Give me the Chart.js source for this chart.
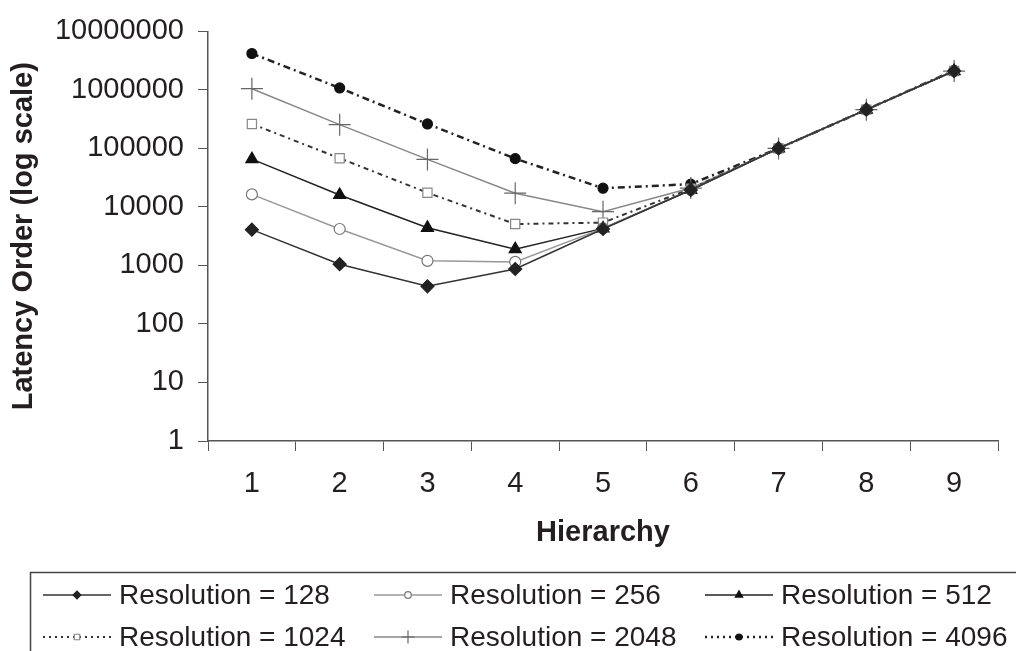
<!DOCTYPE html>
<html>
<head>
<meta charset="utf-8">
<title>Latency Order</title>
<script src="https://cdn.jsdelivr.net/npm/chart.js@4.4.1/dist/chart.umd.min.js"></script>
<style>
    html, body { margin: 0; padding: 0; background: #fff; }
    #contenedor { width: 1016px; height: 651px; position: relative; }
</style>
</head>
<body>
<div id="contenedor"><canvas id="graficoLatencia"></canvas></div>
<script>
// Datos (escala logarítmica)
const jerarquia = ['1', '2', '3', '4', '5', '6', '7', '8', '9'];
const res128  = [4096, 1050, 440, 870, 4200, 19500, 100000, 460000, 2100000];
const res256  = [16384, 4200, 1200, 1150, 4300, 19500, 100000, 460000, 2100000];
const res512  = [65536, 16000, 4400, 1900, 4300, 19500, 100000, 460000, 2100000];
const res1024 = [262144, 68000, 17500, 5100, 5400, 20500, 100000, 460000, 2100000];
const res2048 = [1048576, 255000, 65000, 17200, 8300, 21000, 100000, 460000, 2100000];
const res4096 = [4194304, 1080000, 262144, 67000, 20900, 24500, 100000, 460000, 2150000];

const yTicks = [1, 10, 100, 1000, 10000, 100000, 1000000, 10000000];
const yTickLabels = ['1', '10', '100', '1000', '10000', '100000', '1000000', '10000000'];
const etiquetas = [
    'Resolution = 128', 'Resolution = 256', 'Resolution = 512',
    'Resolution = 1024', 'Resolution = 2048', 'Resolution = 4096'
];

const colorTexto = '#231f20';
const colorEje = '#555';
const fuente = '"Liberation Sans", Arial, sans-serif';

// Leyenda dibujada a mano: caja con dos filas de tres elementos
const leyendaCaja = {
    id: 'leyendaCaja',
    afterDraw(chart) {
        const ctx = chart.ctx;
        ctx.save();
        ctx.strokeStyle = '#444';
        ctx.lineWidth = 1.5;
        ctx.strokeRect(30.5, 572.5, 1100, 200);

        const colX = [119, 450, 781];
        const filaY = [595, 637];
        chart.data.datasets.forEach((ds, i) => {
            const tx = colX[i % 3];
            const ty = filaY[Math.floor(i / 3)];

            ctx.strokeStyle = ds.borderColor;
            ctx.lineWidth = ds.borderWidth;
            ctx.setLineDash(ds.borderDash && ds.borderDash.length ? [2, 4] : []);
            ctx.beginPath();
            ctx.moveTo(tx - 76, ty);
            ctx.lineTo(tx - 8, ty);
            ctx.stroke();
            ctx.setLineDash([]);

            ctx.fillStyle = ds.pointBackgroundColor;
            ctx.strokeStyle = ds.pointBorderColor;
            ctx.lineWidth = ds.pointBorderWidth;
            Chart.helpers.drawPoint(ctx, {
                pointStyle: ds.pointStyle,
                radius: ds.pointRadius * 0.6,
                borderWidth: ds.pointBorderWidth,
                rotation: 0
            }, tx - 42, ty);

            ctx.fillStyle = colorTexto;
            ctx.font = '28px ' + fuente;
            ctx.textAlign = 'left';
            ctx.textBaseline = 'middle';
            ctx.fillText(ds.label, tx, ty + 1);
        });
        ctx.restore();
    }
};

function serie(label, data, estilo) {
    return Object.assign({
        label: label,
        data: data,
        fill: false,
        tension: 0,
        borderWidth: 1.5,
        pointBorderWidth: 1.2
    }, estilo);
}

const datasets = [
    serie(etiquetas[0], res128, {
        borderColor: '#333', pointStyle: 'rectRot', pointRadius: 6.5,
        pointBackgroundColor: '#222', pointBorderColor: '#222'
    }),
    serie(etiquetas[1], res256, {
        borderColor: '#999', pointStyle: 'circle', pointRadius: 5.5,
        pointBackgroundColor: '#fff', pointBorderColor: '#777'
    }),
    serie(etiquetas[2], res512, {
        borderColor: '#222', pointStyle: 'triangle', pointRadius: 7,
        pointBackgroundColor: '#111', pointBorderColor: '#111'
    }),
    serie(etiquetas[3], res1024, {
        borderColor: '#333', borderWidth: 2, borderDash: [5, 4, 2, 4], pointStyle: 'rect', pointRadius: 6.5,
        pointBackgroundColor: '#fff', pointBorderColor: '#888'
    }),
    serie(etiquetas[4], res2048, {
        borderColor: '#888', pointStyle: 'cross', pointRadius: 11,
        pointBackgroundColor: '#666', pointBorderColor: '#666'
    }),
    serie(etiquetas[5], res4096, {
        borderColor: '#222', borderWidth: 2.5, borderDash: [7, 4, 2, 4], pointStyle: 'circle', pointRadius: 5,
        pointBackgroundColor: '#111', pointBorderColor: '#111'
    })
];

new Chart(document.getElementById('graficoLatencia'), {
    type: 'line',
    data: { labels: jerarquia, datasets: datasets },
    plugins: [leyendaCaja],
    options: {
        responsive: true,
        maintainAspectRatio: false,
        animation: false,
        layout: { padding: { left: 0, top: 30, right: 18, bottom: 96 } },
        plugins: {
            legend: { display: false },
            tooltip: { enabled: false }
        },
        scales: {
            x: {
                type: 'category',
                offset: true,
                grid: {
                    offset: true,
                    drawOnChartArea: false,
                    drawTicks: true,
                    tickLength: 10,
                    color: colorEje
                },
                border: { display: true, color: colorEje, width: 1.5 },
                ticks: {
                    color: colorTexto,
                    padding: 16,
                    font: { family: fuente, size: 29 }
                },
                title: {
                    display: true,
                    text: 'Hierarchy',
                    color: colorTexto,
                    padding: { top: 0, bottom: 5 },
                    font: { family: fuente, size: 29, weight: 'bold' }
                },
                afterFit: (scale) => { scale.height = 114; }
            },
            y: {
                type: 'logarithmic',
                min: 1,
                max: 10000000,
                afterBuildTicks: (scale) => {
                    scale.ticks = yTicks.map(v => ({ value: v }));
                },
                grid: {
                    drawOnChartArea: false,
                    drawTicks: true,
                    tickLength: 10,
                    color: colorEje
                },
                border: { display: true, color: colorEje, width: 1.5 },
                ticks: {
                    color: colorTexto,
                    padding: 14,
                    autoSkip: false,
                    font: { family: fuente, size: 29 },
                    callback: function(value, index) {
                        return yTickLabels[index];
                    }
                },
                title: {
                    display: true,
                    text: 'Latency Order (log scale)',
                    color: colorTexto,
                    padding: { top: 7, bottom: 0 },
                    font: { family: fuente, size: 29, weight: 'bold' }
                },
                afterFit: (scale) => { scale.width = 208; }
            }
        }
    }
});
</script>
</body>
</html>
